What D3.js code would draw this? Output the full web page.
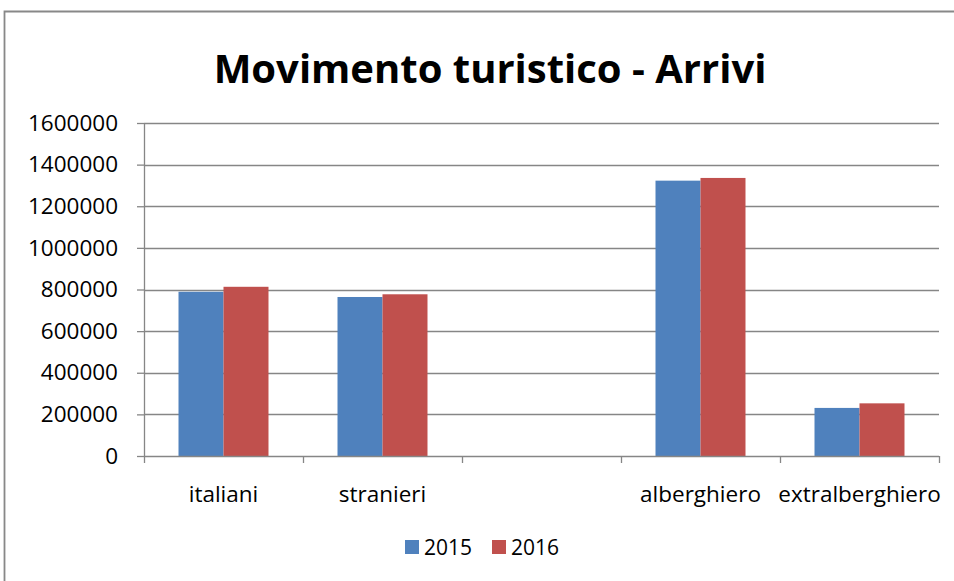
<!DOCTYPE html>
<html>
<head>
<meta charset="utf-8">
<script src="https://cdn.jsdelivr.net/npm/d3@7"></script>
<style>
  body { margin: 0; background: #fff; }
  text { font-family: "Open Sans", "DejaVu Sans", sans-serif; fill: #000; }
</style>
</head>
<body>
<div id="chart"></div>
<script>
// Data
var categories = ["italiani", "stranieri", "", "alberghiero", "extralberghiero"];
var series = ["2015", "2016"];
var values2015 = [789000, 764000, 0, 1323000, 231000];
var values2016 = [813000, 777000, 0, 1336000, 253000];
var yTicks = [0, 200000, 400000, 600000, 800000, 1000000, 1200000, 1400000, 1600000];
var colorList = ["#4F81BD", "#C0504D"];

var W = 954, H = 581;
var margin = {top: 123, right: 15, bottom: 125, left: 144},
    width = W - margin.left - margin.right,
    height = H - margin.top - margin.bottom,
    font_size = "22.5px";

var rows = categories.map(function(c, i) {
  return {name: c, key: "c" + i, v: [values2015[i], values2016[i]]};
});

var svg = d3.select("#chart").append("svg")
  .attr("width", W)
  .attr("height", H);

// chart frame
svg.append("path")
  .attr("d", "M4.5," + H + "V11.5H" + W)
  .attr("fill", "none")
  .attr("stroke", "#888")
  .attr("stroke-width", 1.8);

svg.append("text")
  .attr("x", 490)
  .attr("y", 83)
  .attr("text-anchor", "middle")
  .style("font-size", "40px")
  .style("font-weight", "bold")
  .text("Movimento turistico - Arrivi");

var g = svg.append("g")
  .attr("transform", "translate(" + margin.left + "," + margin.top + ")");

var x0 = d3.scaleBand()
  .domain(rows.map(function(d) { return d.key; }))
  .range([0, width])
  .padding(0);

var gap = x0.bandwidth() * 0.217;
var x1 = d3.scaleBand()
  .domain(series)
  .range([gap, x0.bandwidth() - gap]);

var y = d3.scaleLinear()
  .domain([0, 1600000])
  .range([height, 0]);

var color = d3.scaleOrdinal().domain(series).range(colorList);

// gridlines
g.append("g")
  .selectAll("line")
  .data(yTicks.slice(1))
  .enter().append("line")
    .attr("x1", 0)
    .attr("x2", width)
    .attr("y1", function(d) { return Math.round(y(d)) + 0.5; })
    .attr("y2", function(d) { return Math.round(y(d)) + 0.5; })
    .attr("stroke", "#868686")
    .attr("stroke-width", 1.3);

// bars
var groups = g.selectAll(".grp")
  .data(rows)
  .enter().append("g")
    .attr("class", "grp")
    .attr("transform", function(d) { return "translate(" + x0(d.key) + ",0)"; });

groups.selectAll("rect")
  .data(function(d) { return d.v.filter(function(v) { return v > 0; }).map(function(v, i) { return {s: series[i], v: v}; }); })
  .enter().append("rect")
    .attr("x", function(d) { return x1(d.s); })
    .attr("width", x1.bandwidth())
    .attr("y", function(d) { return y(d.v); })
    .attr("height", function(d) { return height - y(d.v); })
    .attr("fill", function(d) { return color(d.s); });

// y axis
var yAxis = g.append("g")
  .call(d3.axisLeft(y).tickValues(yTicks).tickSize(7).tickPadding(19).tickFormat(d3.format("d")));
yAxis.selectAll("line,path").attr("stroke", "#868686").attr("stroke-width", 1.3);
yAxis.select(".domain").attr("d", "M0.5," + height + "V0");
yAxis.selectAll("text").style("font-size", font_size).attr("font-family", null).attr("fill", "#000");

// x axis
var xAxis = g.append("g")
  .attr("transform", "translate(0," + height + ")")
  .call(d3.axisBottom(x0).tickSize(0).tickPadding(0).tickFormat(function(k, i) { return categories[i]; }));
xAxis.select(".domain").attr("stroke", "#868686").attr("stroke-width", 1.3).attr("d", "M0," + 0.5 + "H" + width);
xAxis.selectAll("text")
  .style("font-size", font_size)
  .attr("font-family", null)
  .attr("fill", "#000")
  .attr("y", 46)
  .attr("dy", 0);

// x tick marks at band edges
g.append("g")
  .attr("transform", "translate(0," + height + ")")
  .selectAll("line")
  .data(rows.map(function(d) { return x0(d.key); }).concat([width]))
  .enter().append("line")
    .attr("x1", function(d) { return Math.round(d) + 0.5; })
    .attr("x2", function(d) { return Math.round(d) + 0.5; })
    .attr("y1", 0)
    .attr("y2", 7)
    .attr("stroke", "#868686")
    .attr("stroke-width", 1.3);

// legend
var legend = svg.append("g")
  .attr("transform", "translate(405,540)");

var item = legend.selectAll("g")
  .data(series)
  .enter().append("g")
    .attr("transform", function(d, i) { return "translate(" + (i * 87) + ",0)"; });

item.append("rect")
  .attr("width", 14)
  .attr("height", 14)
  .attr("fill", function(d) { return color(d); });

item.append("text")
  .attr("x", 19)
  .attr("y", 15)
  .style("font-size", "21px")
  .text(function(d) { return d; });
</script>
</body>
</html>
